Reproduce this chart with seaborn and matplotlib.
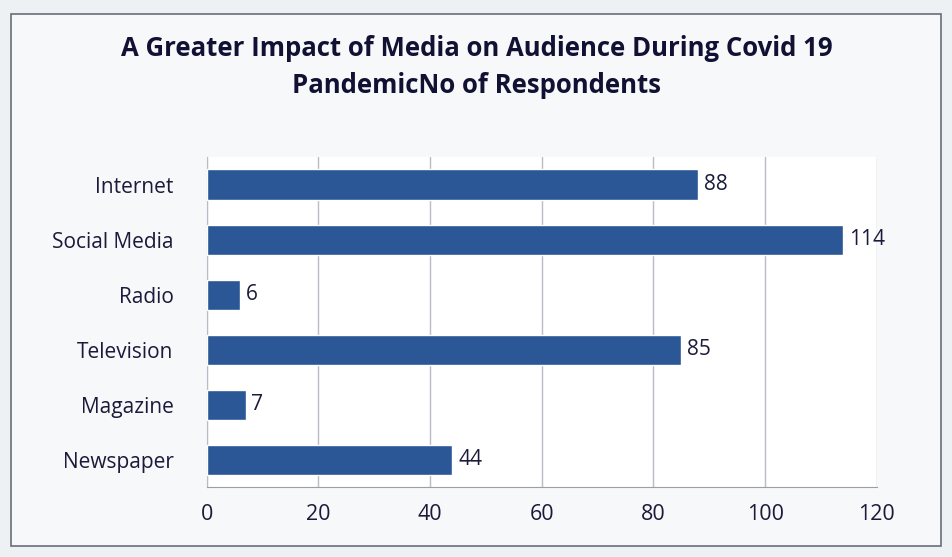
import seaborn as sns
import pandas as pd
import matplotlib.pyplot as plt
from matplotlib.patches import Rectangle

media = ['Internet', 'Social Media', 'Radio', 'Television', 'Magazine', 'Newspaper']
respondents = [88, 114, 6, 85, 7, 44]
xticks = [0, 20, 40, 60, 80, 100, 120]

df = pd.DataFrame({'media': media, 'respondents': respondents})

sns.set_style('white')
plt.rcParams['font.family'] = ['Open Sans', 'DejaVu Sans']

fig = plt.figure(figsize=(9.53, 5.57), dpi=100)
fig.patch.set_facecolor('#eef1f4')
fig.patches.append(Rectangle((0.012, 0.02), 0.975, 0.955, transform=fig.transFigure,
                             facecolor='#f7f8fa', edgecolor='#6a6e78', linewidth=1.2, zorder=-1))
ax = fig.add_axes([0.217, 0.125, 0.703, 0.593])
ax.set_facecolor('white')

sns.barplot(x='respondents', y='media', data=df, color='#2b5797', width=0.55,
            saturation=1, ax=ax, zorder=3)

for i, v in enumerate(respondents):
    ax.text(v + 1, i, str(v), va='center', ha='left', fontsize=15, color='#1a1a3a')

ax.set_xlim(0, 120)
ax.set_xticks(xticks)
ax.tick_params(axis='x', labelsize=15.5, colors='#1a1a3a', length=4, direction='out', pad=8)
ax.tick_params(axis='y', labelsize=15, colors='#1a1a3a', length=0, pad=24)
ax.xaxis.grid(True, color='#b8bcc4', linewidth=1, zorder=0)
ax.set_xlabel('')
ax.set_ylabel('')
for s in ['top', 'right']:
    ax.spines[s].set_visible(False)
ax.spines['left'].set_color('#b8bcc4')
ax.spines['bottom'].set_color('#9a9ea6')

fig.text(0.5, 0.88, 'A Greater Impact of Media on Audience During Covid 19\nPandemicNo of Respondents',
         ha='center', va='center', fontsize=18.5, fontweight='bold', color='#111133',
         linespacing=1.45)

fig.savefig('out.png', dpi=100)
